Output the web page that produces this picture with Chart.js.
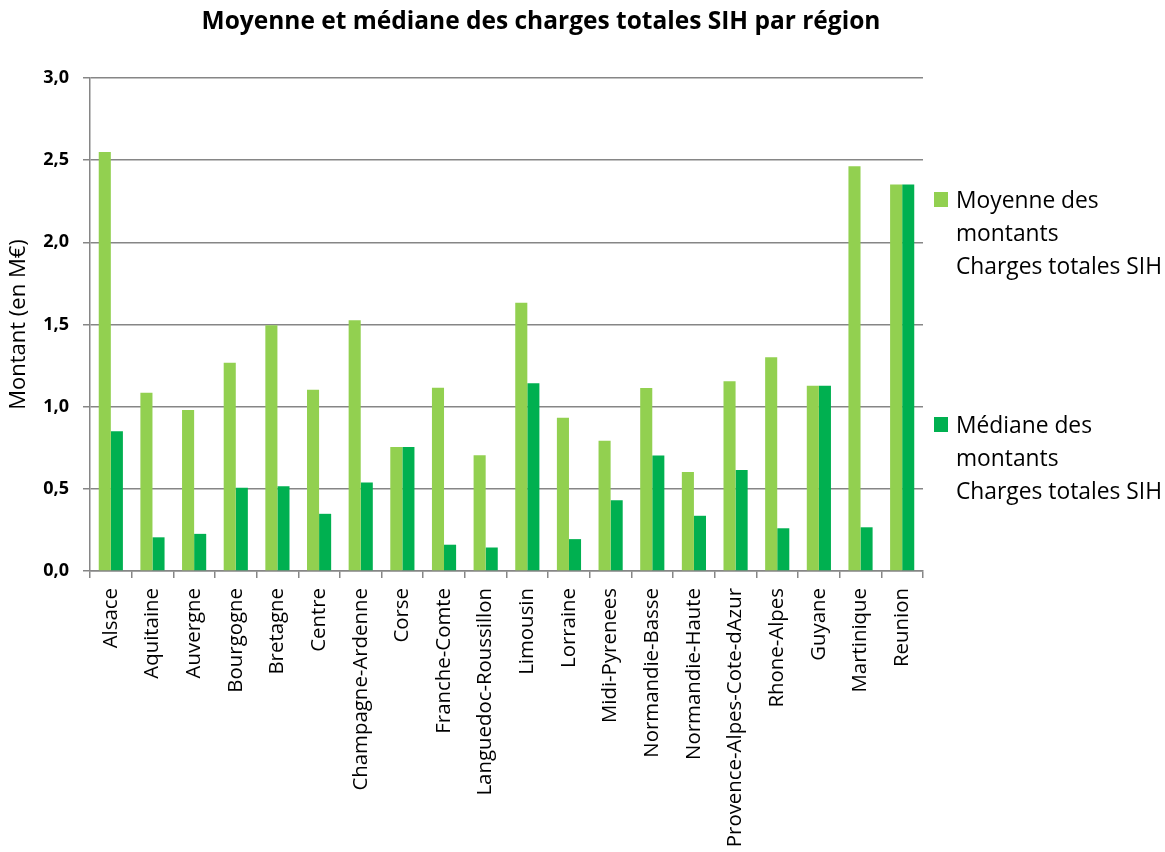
<!DOCTYPE html>
<html lang="fr">
<head>
<meta charset="utf-8">
<title>Moyenne et médiane des charges totales SIH par région</title>
<script src="https://cdn.jsdelivr.net/npm/chart.js@4.4.1/dist/chart.umd.min.js"></script>
<style>
  html, body { margin: 0; padding: 0; background: #fff; }
  #wrap { position: relative; width: 1165px; height: 852px; overflow: hidden; font-family: "Open Sans", sans-serif; color: #000; }
  #chart { position: absolute; left: 0; top: 0; }
  #title { position: absolute; left: 0; top: 8px; width: 1082px; text-align: center; font-weight: bold; font-size: 24.5px; line-height: 24px; white-space: nowrap; }
  .leg-item { position: absolute; left: 934px; }
  .leg-box { position: absolute; left: 0; width: 14px; height: 15px; }
  .leg-text { position: absolute; left: 22px; font-size: 22.8px; line-height: 33px; white-space: nowrap; }
</style>
</head>
<body>
<div id="wrap">
  <canvas id="chart" width="1165" height="852"></canvas>
  <div id="title">Moyenne et médiane des charges totales SIH par région</div>
  <div id="legend"></div>
</div>
<script>
const regions = [
  'Alsace', 'Aquitaine', 'Auvergne', 'Bourgogne', 'Bretagne', 'Centre',
  'Champagne-Ardenne', 'Corse', 'Franche-Comte', 'Languedoc-Roussillon',
  'Limousin', 'Lorraine', 'Midi-Pyrenees', 'Normandie-Basse', 'Normandie-Haute',
  'Provence-Alpes-Cote-dAzur', 'Rhone-Alpes', 'Guyane', 'Martinique', 'Reunion'
];

// montants en M€
const moyenne = [2.55, 1.085, 0.98, 1.267, 1.495, 1.103, 1.526, 0.754, 1.115, 0.705,
                 1.632, 0.933, 0.792, 1.113, 0.602, 1.155, 1.30, 1.127, 2.463, 2.352];
const mediane = [0.851, 0.205, 0.226, 0.506, 0.515, 0.348, 0.539, 0.754, 0.16, 0.143,
                 1.142, 0.194, 0.43, 0.703, 0.336, 0.614, 0.26, 1.127, 0.266, 2.352];

const yTicks = [0, 0.5, 1, 1.5, 2, 2.5, 3];

const moyenneLabel = ['Moyenne des', 'montants', 'Charges totales SIH'];
const medianeLabel = ['Médiane des', 'montants', 'Charges totales SIH'];

const lightGreen = '#92D050';
const darkGreen = '#00B050';
const axisGrey = '#868686';

const chart = new Chart(document.getElementById('chart'), {
  type: 'bar',
  data: {
    labels: regions,
    datasets: [
      {
        label: moyenneLabel.join(' '),
        lines: moyenneLabel,
        data: moyenne,
        backgroundColor: lightGreen,
        categoryPercentage: 0.58,
        barPercentage: 1.0,
      },
      {
        label: medianeLabel.join(' '),
        lines: medianeLabel,
        data: mediane,
        backgroundColor: darkGreen,
        categoryPercentage: 0.58,
        barPercentage: 1.0,
      },
    ],
  },
  options: {
    responsive: false,
    animation: false,
    devicePixelRatio: 1,
    layout: {
      padding: { top: 78, right: 242, bottom: 0, left: 0 },
    },
    plugins: {
      legend: { display: false },
      title: { display: false },
      tooltip: { enabled: false },
    },
    scales: {
      x: {
        afterFit: (scale) => { scale.height = 281; },
        grid: {
          drawOnChartArea: false,
          drawTicks: true,
          tickLength: 7,
          color: axisGrey,
          lineWidth: 1.5,
        },
        border: { color: axisGrey, width: 1.5 },
        ticks: {
          autoSkip: false,
          minRotation: 90,
          maxRotation: 90,
          padding: 10,
          color: '#000',
          font: { family: 'Open Sans', size: 20.4 },
        },
      },
      y: {
        min: 0,
        max: 3,
        afterFit: (scale) => { scale.width = 90; },
        afterBuildTicks: (scale) => {
          scale.ticks = yTicks.map(v => ({ value: v }));
        },
        grid: {
          color: axisGrey,
          lineWidth: 1.5,
          tickLength: 7,
        },
        border: { color: axisGrey, width: 1.5 },
        ticks: {
          padding: 14,
          color: '#000',
          font: { family: 'Open Sans', size: 18, weight: 'bold' },
          callback: (v) => v.toFixed(1).replace('.', ','),
        },
        title: {
          display: true,
          text: 'Montant (en M€)',
          color: '#000',
          font: { family: 'Open Sans', size: 22 },
          padding: { top: 6, bottom: 0 },
        },
      },
    },
  },
});

// légende à droite, une entrée par série
const legendTops = [183, 408];
const legend = document.getElementById('legend');
chart.data.datasets.forEach((ds, i) => {
  const item = document.createElement('div');
  item.className = 'leg-item';
  item.style.top = legendTops[i] + 'px';
  const box = document.createElement('div');
  box.className = 'leg-box';
  box.style.top = '9px';
  box.style.background = ds.backgroundColor;
  const text = document.createElement('div');
  text.className = 'leg-text';
  text.innerHTML = ds.lines.join('<br>');
  item.appendChild(box);
  item.appendChild(text);
  legend.appendChild(item);
});
</script>
</body>
</html>
